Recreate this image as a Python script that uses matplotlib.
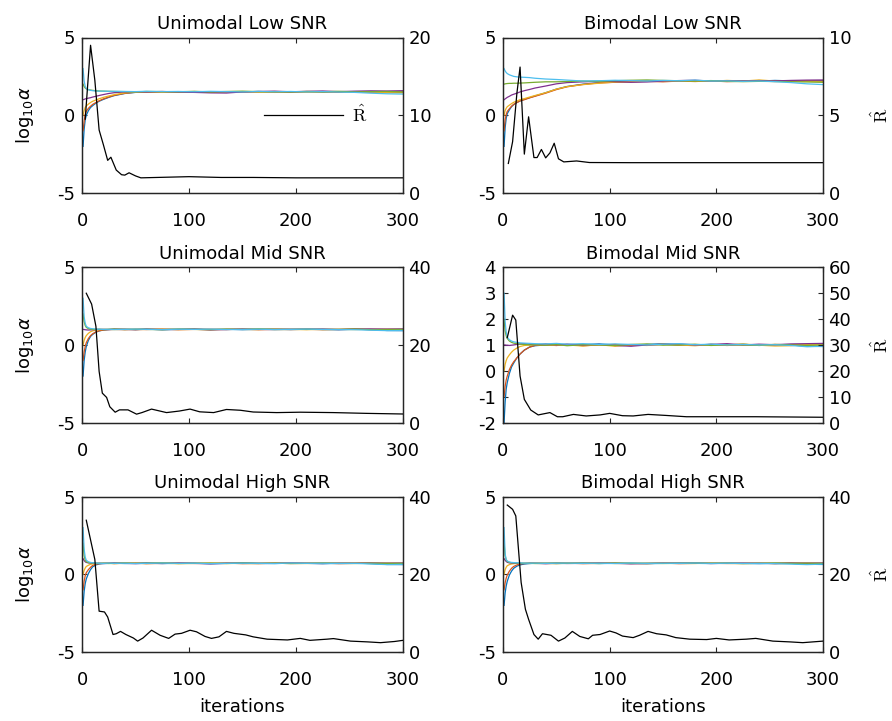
import matplotlib
matplotlib.use("Agg")
import matplotlib.pyplot as plt
from matplotlib.font_manager import FontProperties

plt.rcParams['font.family'] = ['DejaVu Sans']
plt.rcParams['font.size'] = 13
plt.rcParams['axes.unicode_minus'] = False

it = [1, 2, 3, 4, 6, 8, 10, 13, 16, 20, 25, 30, 40, 50, 60, 75, 90, 105, 120, 135,
      150, 165, 180, 195, 210, 225, 240, 255, 270, 285, 300]

# Unimodal Low SNR
ul_blue = [-2.0, -0.9, -0.3, 0.0, 0.3, 0.5, 0.62, 0.78, 0.9, 1.02, 1.15, 1.26, 1.40, 1.47, 1.50, 1.48,
           1.52, 1.50, 1.49, 1.51, 1.50, 1.53, 1.49, 1.50, 1.52, 1.48, 1.50, 1.51, 1.49, 1.50, 1.48]
ul_orange = [-1.0, -0.4, 0.05, 0.25, 0.45, 0.58, 0.7, 0.82, 0.93, 1.05, 1.17, 1.28, 1.41, 1.48, 1.50, 1.47,
             1.50, 1.52, 1.48, 1.50, 1.49, 1.51, 1.47, 1.50, 1.49, 1.52, 1.48, 1.50, 1.49, 1.51, 1.50]
ul_yellow = [0.0, 0.3, 0.5, 0.6, 0.72, 0.82, 0.9, 0.98, 1.06, 1.15, 1.24, 1.32, 1.44, 1.49, 1.51, 1.48,
             1.50, 1.47, 1.51, 1.49, 1.52, 1.48, 1.50, 1.51, 1.49, 1.50, 1.52, 1.48, 1.50, 1.45, 1.44]
ul_purple = [1.0, 1.02, 1.05, 1.07, 1.1, 1.13, 1.17, 1.22, 1.27, 1.33, 1.4, 1.45, 1.5, 1.52, 1.50, 1.53,
             1.49, 1.47, 1.44, 1.43, 1.50, 1.53, 1.55, 1.51, 1.54, 1.56, 1.52, 1.55, 1.57, 1.56, 1.58]
ul_green = [2.0, 1.85, 1.75, 1.7, 1.65, 1.62, 1.6, 1.58, 1.56, 1.55, 1.54, 1.53, 1.52, 1.50, 1.53, 1.52,
            1.51, 1.54, 1.50, 1.53, 1.55, 1.52, 1.51, 1.50, 1.53, 1.51, 1.54, 1.50, 1.52, 1.53, 1.50]
ul_cyan = [3.0, 2.2, 1.85, 1.72, 1.64, 1.6, 1.58, 1.56, 1.55, 1.55, 1.54, 1.54, 1.53, 1.52, 1.54, 1.52,
           1.53, 1.51, 1.54, 1.52, 1.50, 1.53, 1.51, 1.53, 1.50, 1.52, 1.49, 1.47, 1.42, 1.38, 1.36]
ul_rx = [3, 8, 12, 16, 20, 24, 27, 32, 37, 40, 44, 50, 55, 70, 100, 130, 160, 200, 250, 300]
ul_ry = [9.5, 19.0, 14.5, 8.1, 6.2, 4.2, 4.6, 2.95, 2.35, 2.3, 2.6, 2.2, 1.95, 2.0, 2.1, 2.0, 2.0, 1.95, 1.95, 1.95]

# Bimodal Low SNR
bl_blue = [-2.0, -0.8, -0.2, 0.1, 0.35, 0.55, 0.68, 0.82, 0.92, 1.02, 1.13, 1.24, 1.45, 1.68, 1.85, 2.0,
           2.1, 2.15, 2.2, 2.18, 2.22, 2.2, 2.23, 2.19, 2.21, 2.22, 2.2, 2.24, 2.21, 2.2, 2.22]
bl_orange = [-1.0, -0.3, 0.05, 0.25, 0.42, 0.58, 0.7, 0.82, 0.92, 1.0, 1.12, 1.22, 1.42, 1.65, 1.83, 1.98,
             2.08, 2.12, 2.16, 2.18, 2.15, 2.2, 2.17, 2.21, 2.16, 2.19, 2.2, 2.17, 2.2, 2.21, 2.19]
bl_yellow = [0.0, 0.3, 0.45, 0.55, 0.65, 0.75, 0.83, 0.92, 1.0, 1.07, 1.17, 1.27, 1.45, 1.68, 1.84, 1.97,
             2.06, 2.13, 2.14, 2.2, 2.18, 2.22, 2.2, 2.18, 2.24, 2.2, 2.27, 2.2, 2.22, 2.18, 2.15]
bl_purple = [1.0, 1.05, 1.1, 1.15, 1.22, 1.3, 1.35, 1.42, 1.5, 1.58, 1.66, 1.75, 1.88, 2.02, 2.1, 2.15,
             2.18, 2.16, 2.12, 2.14, 2.2, 2.23, 2.25, 2.2, 2.22, 2.2, 2.23, 2.21, 2.24, 2.26, 2.27]
bl_green = [2.0, 2.02, 2.03, 2.04, 2.05, 2.05, 2.06, 2.06, 2.07, 2.08, 2.1, 2.12, 2.15, 2.15, 2.17, 2.2,
            2.18, 2.22, 2.25, 2.27, 2.24, 2.22, 2.2, 2.23, 2.18, 2.16, 2.18, 2.17, 2.15, 2.14, 2.12]
bl_cyan = [3.0, 2.85, 2.75, 2.68, 2.6, 2.55, 2.5, 2.47, 2.45, 2.44, 2.42, 2.38, 2.33, 2.3, 2.26, 2.2,
           2.22, 2.25, 2.23, 2.2, 2.24, 2.22, 2.26, 2.2, 2.21, 2.18, 2.2, 2.16, 2.1, 2.02, 1.97]
bl_rx = [5, 9, 13, 16, 20, 24, 29, 32, 36, 40, 44, 48, 52, 57, 69, 81, 120, 200, 300]
bl_ry = [1.9, 3.3, 6.4, 8.1, 2.5, 4.9, 2.28, 2.28, 2.8, 2.26, 2.58, 3.2, 2.2, 2.0, 2.06, 1.96, 1.95, 1.95, 1.95]

# Unimodal Mid SNR
um_blue = [-2.0, -1.0, -0.45, -0.1, 0.3, 0.55, 0.68, 0.82, 0.9, 0.96, 0.99, 1.0, 1.01, 0.99, 1.02, 0.98,
           1.0, 1.02, 0.99, 1.01, 0.98, 1.0, 1.02, 0.99, 1.01, 1.0, 0.98, 1.01, 0.99, 0.93, 0.92]
um_orange = [-1.0, -0.45, -0.1, 0.15, 0.42, 0.6, 0.72, 0.84, 0.91, 0.96, 0.99, 1.0, 0.98, 1.01, 0.99, 1.02,
             0.98, 1.0, 1.01, 0.99, 1.02, 0.98, 1.0, 0.99, 1.01, 0.98, 1.0, 1.02, 0.99, 1.0, 1.01]
um_yellow = [0.0, 0.3, 0.48, 0.6, 0.75, 0.85, 0.91, 0.95, 0.98, 1.0, 1.0, 0.99, 1.01, 0.98, 1.0, 1.02,
             0.99, 1.0, 0.97, 1.01, 1.0, 0.99, 1.02, 1.0, 0.98, 1.01, 1.0, 0.99, 1.01, 1.0, 0.98]
um_purple = [1.0, 0.99, 0.98, 0.97, 0.96, 0.97, 0.98, 0.99, 1.0, 1.0, 0.99, 1.01, 1.0, 0.98, 1.01, 0.99,
             1.0, 1.01, 0.97, 0.99, 1.02, 1.0, 0.99, 1.01, 1.0, 1.02, 0.99, 1.01, 1.03, 1.02, 1.03]
um_green = [2.0, 1.5, 1.25, 1.13, 1.05, 1.02, 1.0, 1.0, 1.01, 0.99, 1.0, 1.02, 0.99, 1.01, 1.0, 0.98,
            1.02, 1.0, 0.99, 1.01, 1.0, 1.03, 0.99, 1.0, 1.01, 0.99, 1.0, 1.02, 0.98, 0.99, 1.0]
um_cyan = [3.0, 1.8, 1.4, 1.2, 1.1, 1.06, 1.04, 1.02, 1.01, 1.0, 1.01, 0.99, 1.0, 1.02, 1.0, 0.99,
           1.01, 1.0, 1.02, 0.99, 1.0, 1.01, 0.99, 1.0, 1.02, 1.0, 0.99, 0.98, 0.95, 0.92, 0.93]
um_rx = [4, 9, 13, 16, 19, 23, 26, 31, 35, 43, 51, 56, 65, 79, 91, 101, 110, 123, 135, 148, 160, 182,
         204, 235, 266, 300]
um_ry = [33.3, 30.5, 24.8, 13.2, 7.6, 6.5, 4.1, 2.7, 3.3, 3.3, 2.2, 2.6, 3.5, 2.6, 3.0, 3.5, 2.8, 2.6,
         3.4, 3.2, 2.75, 2.6, 2.7, 2.6, 2.4, 2.24]

# Bimodal Mid SNR
bm_blue = [-2.0, -1.2, -0.7, -0.45, -0.1, 0.15, 0.3, 0.5, 0.65, 0.8, 0.92, 0.97, 1.0, 1.02, 0.99, 1.01,
           1.04, 1.0, 0.98, 1.02, 1.05, 1.0, 0.99, 1.02, 1.0, 1.03, 0.98, 1.01, 1.0, 0.95, 0.94]
bm_orange = [-1.0, -0.6, -0.35, -0.2, 0.05, 0.22, 0.35, 0.5, 0.65, 0.8, 0.92, 0.98, 1.0, 0.98, 1.02, 0.97,
             1.0, 1.02, 0.98, 1.0, 1.03, 0.99, 1.0, 1.02, 0.98, 1.01, 0.99, 1.02, 1.0, 1.01, 0.99]
bm_yellow = [0.0, 0.25, 0.4, 0.5, 0.62, 0.72, 0.8, 0.88, 0.94, 0.98, 1.0, 0.99, 1.02, 0.98, 1.0, 0.96,
             1.01, 0.95, 1.0, 0.98, 1.03, 1.0, 0.97, 1.02, 1.0, 1.04, 0.99, 0.96, 0.97, 1.02, 1.0]
bm_purple = [1.0, 1.0, 0.99, 0.99, 0.98, 0.99, 1.0, 1.02, 1.04, 1.05, 1.03, 1.0, 1.04, 1.0, 1.03, 1.0,
             1.02, 0.98, 0.95, 1.0, 1.02, 1.04, 1.0, 1.02, 1.05, 1.0, 1.03, 1.01, 1.04, 1.05, 1.06]
bm_green = [2.0, 1.55, 1.35, 1.25, 1.15, 1.1, 1.07, 1.05, 1.03, 1.02, 1.0, 1.01, 0.99, 1.02, 0.97, 1.01,
            1.0, 0.98, 1.02, 1.04, 0.99, 1.0, 1.03, 0.98, 1.01, 1.0, 0.99, 1.02, 1.0, 0.98, 1.0]
bm_cyan = [3.0, 1.9, 1.5, 1.3, 1.2, 1.15, 1.12, 1.1, 1.08, 1.07, 1.06, 1.05, 1.04, 1.06, 1.03, 1.05,
           1.02, 1.04, 1.02, 1.0, 1.03, 1.05, 1.01, 1.03, 1.0, 1.02, 1.0, 1.01, 0.98, 0.93, 0.95]
bm_rx = [4, 9, 12, 16, 20, 26, 33, 44, 51, 56, 66, 78, 91, 100, 112, 122, 136, 153, 172, 200, 237, 300]
bm_ry = [32.8, 41.5, 39.6, 18.0, 9.0, 4.9, 3.0, 3.9, 2.3, 2.3, 3.2, 2.6, 3.0, 3.6, 2.7, 2.6, 3.2, 2.8,
         2.3, 2.3, 2.3, 2.1]

# Unimodal High SNR
uh_blue = [-2.0, -1.1, -0.6, -0.3, 0.05, 0.3, 0.48, 0.6, 0.66, 0.69, 0.7, 0.71, 0.69, 0.7, 0.72, 0.69,
           0.7, 0.71, 0.68, 0.7, 0.72, 0.7, 0.69, 0.71, 0.7, 0.68, 0.7, 0.71, 0.69, 0.63, 0.62]
uh_orange = [-1.0, -0.45, -0.1, 0.1, 0.3, 0.45, 0.57, 0.65, 0.68, 0.7, 0.71, 0.69, 0.7, 0.72, 0.68, 0.7,
             0.71, 0.69, 0.7, 0.72, 0.68, 0.7, 0.71, 0.69, 0.7, 0.72, 0.68, 0.7, 0.71, 0.7, 0.69]
uh_yellow = [0.0, 0.25, 0.4, 0.5, 0.58, 0.64, 0.67, 0.69, 0.7, 0.7, 0.71, 0.68, 0.72, 0.7, 0.69, 0.71,
             0.68, 0.7, 0.73, 0.69, 0.7, 0.68, 0.72, 0.7, 0.69, 0.71, 0.7, 0.72, 0.69, 0.7, 0.71]
uh_purple = [1.0, 0.88, 0.8, 0.76, 0.73, 0.72, 0.71, 0.7, 0.71, 0.69, 0.7, 0.72, 0.7, 0.68, 0.71, 0.69,
             0.72, 0.7, 0.67, 0.7, 0.71, 0.69, 0.7, 0.72, 0.7, 0.69, 0.71, 0.7, 0.72, 0.71, 0.72]
uh_green = [2.0, 1.2, 0.9, 0.8, 0.75, 0.73, 0.72, 0.71, 0.7, 0.71, 0.69, 0.7, 0.72, 0.7, 0.71, 0.73,
            0.69, 0.7, 0.71, 0.69, 0.72, 0.7, 0.71, 0.69, 0.7, 0.72, 0.7, 0.69, 0.71, 0.7, 0.7]
uh_cyan = [3.0, 1.6, 1.1, 0.9, 0.8, 0.76, 0.74, 0.72, 0.71, 0.7, 0.72, 0.7, 0.71, 0.69, 0.7, 0.72,
           0.7, 0.71, 0.69, 0.7, 0.71, 0.7, 0.69, 0.72, 0.7, 0.71, 0.69, 0.7, 0.66, 0.62, 0.64]
uh_rx = [4, 12, 16, 21, 24, 29, 32, 36, 41, 48, 52, 57, 65, 73, 81, 87, 93, 101, 107, 115, 121, 128,
         135, 142, 153, 160, 173, 192, 204, 213, 229, 235, 251, 267, 279, 292, 300]
uh_ry = [33.9, 23.8, 10.5, 10.3, 9.0, 4.5, 4.7, 5.3, 4.5, 3.6, 2.8, 3.6, 5.6, 4.3, 3.5, 4.6, 4.8, 5.6,
         5.2, 4.0, 3.5, 3.9, 5.3, 4.8, 4.4, 3.9, 3.3, 3.1, 3.5, 3.0, 3.3, 3.45, 2.8, 2.6, 2.4, 2.7, 3.0]

# Bimodal High SNR
bh_blue = [-2.0, -1.2, -0.75, -0.45, -0.05, 0.2, 0.38, 0.52, 0.6, 0.66, 0.69, 0.7, 0.71, 0.69, 0.7, 0.72,
           0.69, 0.7, 0.71, 0.68, 0.7, 0.72, 0.7, 0.69, 0.71, 0.7, 0.68, 0.71, 0.7, 0.64, 0.63]
bh_orange = [-1.0, -0.55, -0.25, -0.05, 0.2, 0.38, 0.5, 0.6, 0.66, 0.69, 0.7, 0.71, 0.69, 0.7, 0.72, 0.68,
             0.7, 0.71, 0.69, 0.7, 0.72, 0.68, 0.7, 0.71, 0.69, 0.7, 0.72, 0.68, 0.7, 0.71, 0.7]
bh_yellow = [0.0, 0.3, 0.45, 0.55, 0.62, 0.66, 0.68, 0.7, 0.7, 0.71, 0.69, 0.72, 0.7, 0.68, 0.71, 0.7,
             0.73, 0.69, 0.7, 0.68, 0.72, 0.7, 0.69, 0.73, 0.7, 0.68, 0.71, 0.7, 0.72, 0.69, 0.7]
bh_purple = [1.0, 0.9, 0.82, 0.77, 0.73, 0.72, 0.71, 0.7, 0.7, 0.69, 0.71, 0.7, 0.68, 0.71, 0.69, 0.7,
             0.72, 0.7, 0.67, 0.69, 0.71, 0.7, 0.72, 0.69, 0.7, 0.71, 0.7, 0.69, 0.72, 0.71, 0.72]
bh_green = [2.0, 1.2, 0.92, 0.82, 0.76, 0.74, 0.73, 0.72, 0.71, 0.7, 0.71, 0.69, 0.7, 0.72, 0.7, 0.71,
            0.69, 0.72, 0.7, 0.71, 0.69, 0.7, 0.72, 0.7, 0.71, 0.69, 0.7, 0.72, 0.7, 0.71, 0.7]
bh_cyan = [3.0, 1.3, 0.95, 0.85, 0.79, 0.76, 0.75, 0.74, 0.73, 0.72, 0.71, 0.72, 0.7, 0.71, 0.72, 0.7,
           0.71, 0.69, 0.72, 0.7, 0.71, 0.7, 0.72, 0.7, 0.71, 0.69, 0.7, 0.68, 0.65, 0.62, 0.65]
bh_rx = [4, 9, 12, 17, 21, 24, 29, 33, 37, 45, 52, 58, 65, 72, 80, 84, 91, 100, 106, 112, 122, 128,
         136, 144, 153, 162, 175, 191, 200, 212, 228, 237, 253, 269, 281, 300]
bh_ry = [37.8, 36.7, 35.0, 17.9, 11.0, 8.4, 4.5, 3.3, 4.7, 4.3, 2.8, 3.6, 5.3, 4.0, 3.4, 4.3, 4.5, 5.4,
         4.9, 4.1, 3.7, 4.3, 5.3, 4.7, 4.4, 3.7, 3.3, 3.2, 3.5, 3.1, 3.3, 3.5, 2.8, 2.6, 2.4, 2.8]

titles = ['Unimodal Low SNR', 'Bimodal Low SNR', 'Unimodal Mid SNR', 'Bimodal Mid SNR',
          'Unimodal High SNR', 'Bimodal High SNR']
colors = ['#0072BD', '#D95319', '#EDB120', '#7E2F8E', '#77AC30', '#4DBEEE']
axcol = '#262626'

panels = [
    ([ul_blue, ul_orange, ul_yellow, ul_purple, ul_green, ul_cyan], ul_rx, ul_ry, (-5, 5), [-5, 0, 5], (0, 20), [0, 10, 20]),
    ([bl_blue, bl_orange, bl_yellow, bl_purple, bl_green, bl_cyan], bl_rx, bl_ry, (-5, 5), [-5, 0, 5], (0, 10), [0, 5, 10]),
    ([um_blue, um_orange, um_yellow, um_purple, um_green, um_cyan], um_rx, um_ry, (-5, 5), [-5, 0, 5], (0, 40), [0, 20, 40]),
    ([bm_blue, bm_orange, bm_yellow, bm_purple, bm_green, bm_cyan], bm_rx, bm_ry, (-2, 4), [-2, -1, 0, 1, 2, 3, 4], (0, 60), [0, 10, 20, 30, 40, 50, 60]),
    ([uh_blue, uh_orange, uh_yellow, uh_purple, uh_green, uh_cyan], uh_rx, uh_ry, (-5, 5), [-5, 0, 5], (0, 40), [0, 20, 40]),
    ([bh_blue, bh_orange, bh_yellow, bh_purple, bh_green, bh_cyan], bh_rx, bh_ry, (-5, 5), [-5, 0, 5], (0, 40), [0, 20, 40]),
]

fig = plt.figure(figsize=(8.92, 7.21), dpi=100)
lefts = [82 / 892, 503 / 892]
widths = [321 / 892, 320 / 892]
bottoms = [1 - 193 / 721, 1 - 422.7 / 721, 1 - 652 / 721]
h = 155.5 / 721

rhat = r'$\hat{\mathrm{R}}$'
cmprop = FontProperties(family='DejaVu Sans', size=13, math_fontfamily='cm')

for i, (chains, rx, ry, yl, yt, yr, ytr) in enumerate(panels):
    row, col = i // 2, i % 2
    ax = fig.add_axes([lefts[col], bottoms[row], widths[col], h])
    for c, vals in zip(colors, chains):
        ax.plot(it, vals, color=c, lw=0.9)
    ax.set_xlim(0, 300)
    ax.set_xticks([0, 100, 200, 300])
    ax.set_ylim(*yl)
    ax.set_yticks(yt)
    ax.set_title(titles[i], fontsize=13, pad=6)
    ax.tick_params(direction='in', length=3.3, width=0.8, color=axcol, top=True, right=False, pad=5)
    ax.tick_params(axis='x', pad=14)
    ax2 = ax.twinx()
    ax2.plot(rx, ry, color='k', lw=0.9, label=rhat)
    ax2.set_ylim(*yr)
    ax2.set_yticks(ytr)
    ax2.tick_params(direction='in', length=3.3, width=0.8, color=axcol, pad=4)
    for a in (ax, ax2):
        for s in a.spines.values():
            s.set_color(axcol)
            s.set_linewidth(0.9)
    if col == 0:
        ax.set_ylabel(r'log$_{10}\alpha$', fontsize=13, labelpad=15)
    else:
        ax2.set_ylabel(rhat, fontproperties=cmprop, labelpad=14)
    if row == 2:
        ax.set_xlabel('iterations', fontsize=13, labelpad=6)
    if i == 0:
        ax2.legend(loc='center left', bbox_to_anchor=(0.567, 0.5), frameon=False,
                   borderpad=0, borderaxespad=0, handlelength=4.4, handletextpad=0.5,
                   prop=cmprop)

fig.savefig('out.png', dpi=100)
